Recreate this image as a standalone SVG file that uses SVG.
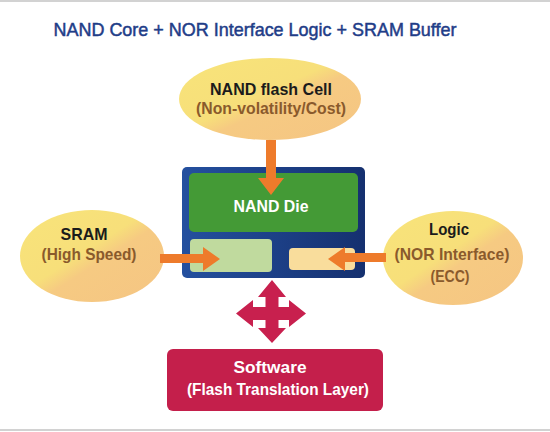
<svg xmlns="http://www.w3.org/2000/svg" width="550" height="432" viewBox="0 0 550 432">
<style>
.t{font-family:"Liberation Sans",Arial,sans-serif;font-weight:bold;text-anchor:middle;}
.dark{fill:#1b1b1b;font-size:17px;}
.brown{fill:#8a5a2c;font-size:17px;}
.white{fill:#ffffff;font-size:17px;}
.ell{fill:url(#yel);}
.orange{fill:#ee7b2b;}
</style>
<defs>
<linearGradient id="yel" x1="0" y1="0" x2="1" y2="1">
<stop offset="0" stop-color="#f8e47a"/>
<stop offset="0.45" stop-color="#f7df7a"/>
<stop offset="0.56" stop-color="#f6ca82"/>
<stop offset="1" stop-color="#f5c583"/>
</linearGradient>
<linearGradient id="blue" x1="0" y1="0" x2="1" y2="0">
<stop offset="0" stop-color="#24509f"/>
<stop offset="1" stop-color="#15306f"/>
</linearGradient>
</defs>
<rect x="0" y="0" width="550" height="432" fill="#ffffff"/>
<rect x="0" y="0" width="550" height="2" fill="#d2d2d2"/>
<rect x="0" y="429" width="550" height="2" fill="#d2d2d2"/>
<text x="255" y="36" font-family="'Liberation Sans',Arial,sans-serif" font-size="19" fill="#1f3d88" stroke="#1f3d88" stroke-width="0.5" text-anchor="middle" textLength="403" lengthAdjust="spacingAndGlyphs">NAND Core + NOR Interface Logic + SRAM Buffer</text>

<g id="nand-cell">
<ellipse class="ell" cx="270" cy="99" rx="91" ry="41"/>
<text class="t dark" x="271" y="95" textLength="122" lengthAdjust="spacingAndGlyphs">NAND flash Cell</text>
<text class="t brown" x="271" y="114" textLength="150" lengthAdjust="spacingAndGlyphs">(Non-volatility/Cost)</text>
</g>

<g id="chip">
<rect x="182" y="167" width="183" height="111" rx="5" fill="url(#blue)"/>
<rect x="189" y="173" width="169" height="59" rx="5" fill="#449a36"/>
<text class="t white" x="271" y="212" textLength="75" lengthAdjust="spacingAndGlyphs">NAND Die</text>
<rect x="190" y="239" width="82" height="33" rx="4" fill="#c0da9e"/>
<rect x="289" y="248" width="66" height="22" rx="4" fill="#f9dd9c"/>
</g>

<g id="sram">
<ellipse class="ell" cx="92" cy="256" rx="72" ry="46"/>
<text class="t dark" x="84" y="240" textLength="47" lengthAdjust="spacingAndGlyphs">SRAM</text>
<text class="t brown" x="89" y="260" textLength="95" lengthAdjust="spacingAndGlyphs">(High Speed)</text>
</g>

<g id="logic">
<ellipse class="ell" cx="453" cy="258" rx="70" ry="47"/>
<text class="t dark" x="449" y="235" textLength="40" lengthAdjust="spacingAndGlyphs">Logic</text>
<text class="t brown" x="452" y="260" textLength="115" lengthAdjust="spacingAndGlyphs">(NOR Interface)</text>
<text class="t brown" x="450" y="282" textLength="39" lengthAdjust="spacingAndGlyphs">(ECC)</text>
</g>

<g id="software">
<rect x="167" y="349" width="216" height="62" rx="6" fill="#c41f4b"/>
<text class="t white" x="270" y="373" textLength="73" lengthAdjust="spacingAndGlyphs">Software</text>
<text class="t white" x="278" y="395" textLength="182" lengthAdjust="spacingAndGlyphs">(Flash Translation Layer)</text>
</g>

<g id="connectors">
<polygon class="orange" points="266,140 276,140 276,178 284,178 271,195 258,178 266,178"/>
<polygon class="orange" points="160,254 203,254 203,247 220,259 203,271 203,263 160,263"/>
<polygon class="orange" points="386,253 345,253 345,247 328,259 345,271 345,262 386,262"/>
<polygon fill="#c8204e" points="272,280 286,297 278.5,297 278.5,307 289,307 289,300 306,313.5 289,327 289,320 278.5,320 278.5,328 286,328 272,343 258,328 265.5,328 265.5,320 253,320 253,327 236,313.5 253,300 253,307 265.5,307 265.5,297 258,297"/>
</g>
</svg>
